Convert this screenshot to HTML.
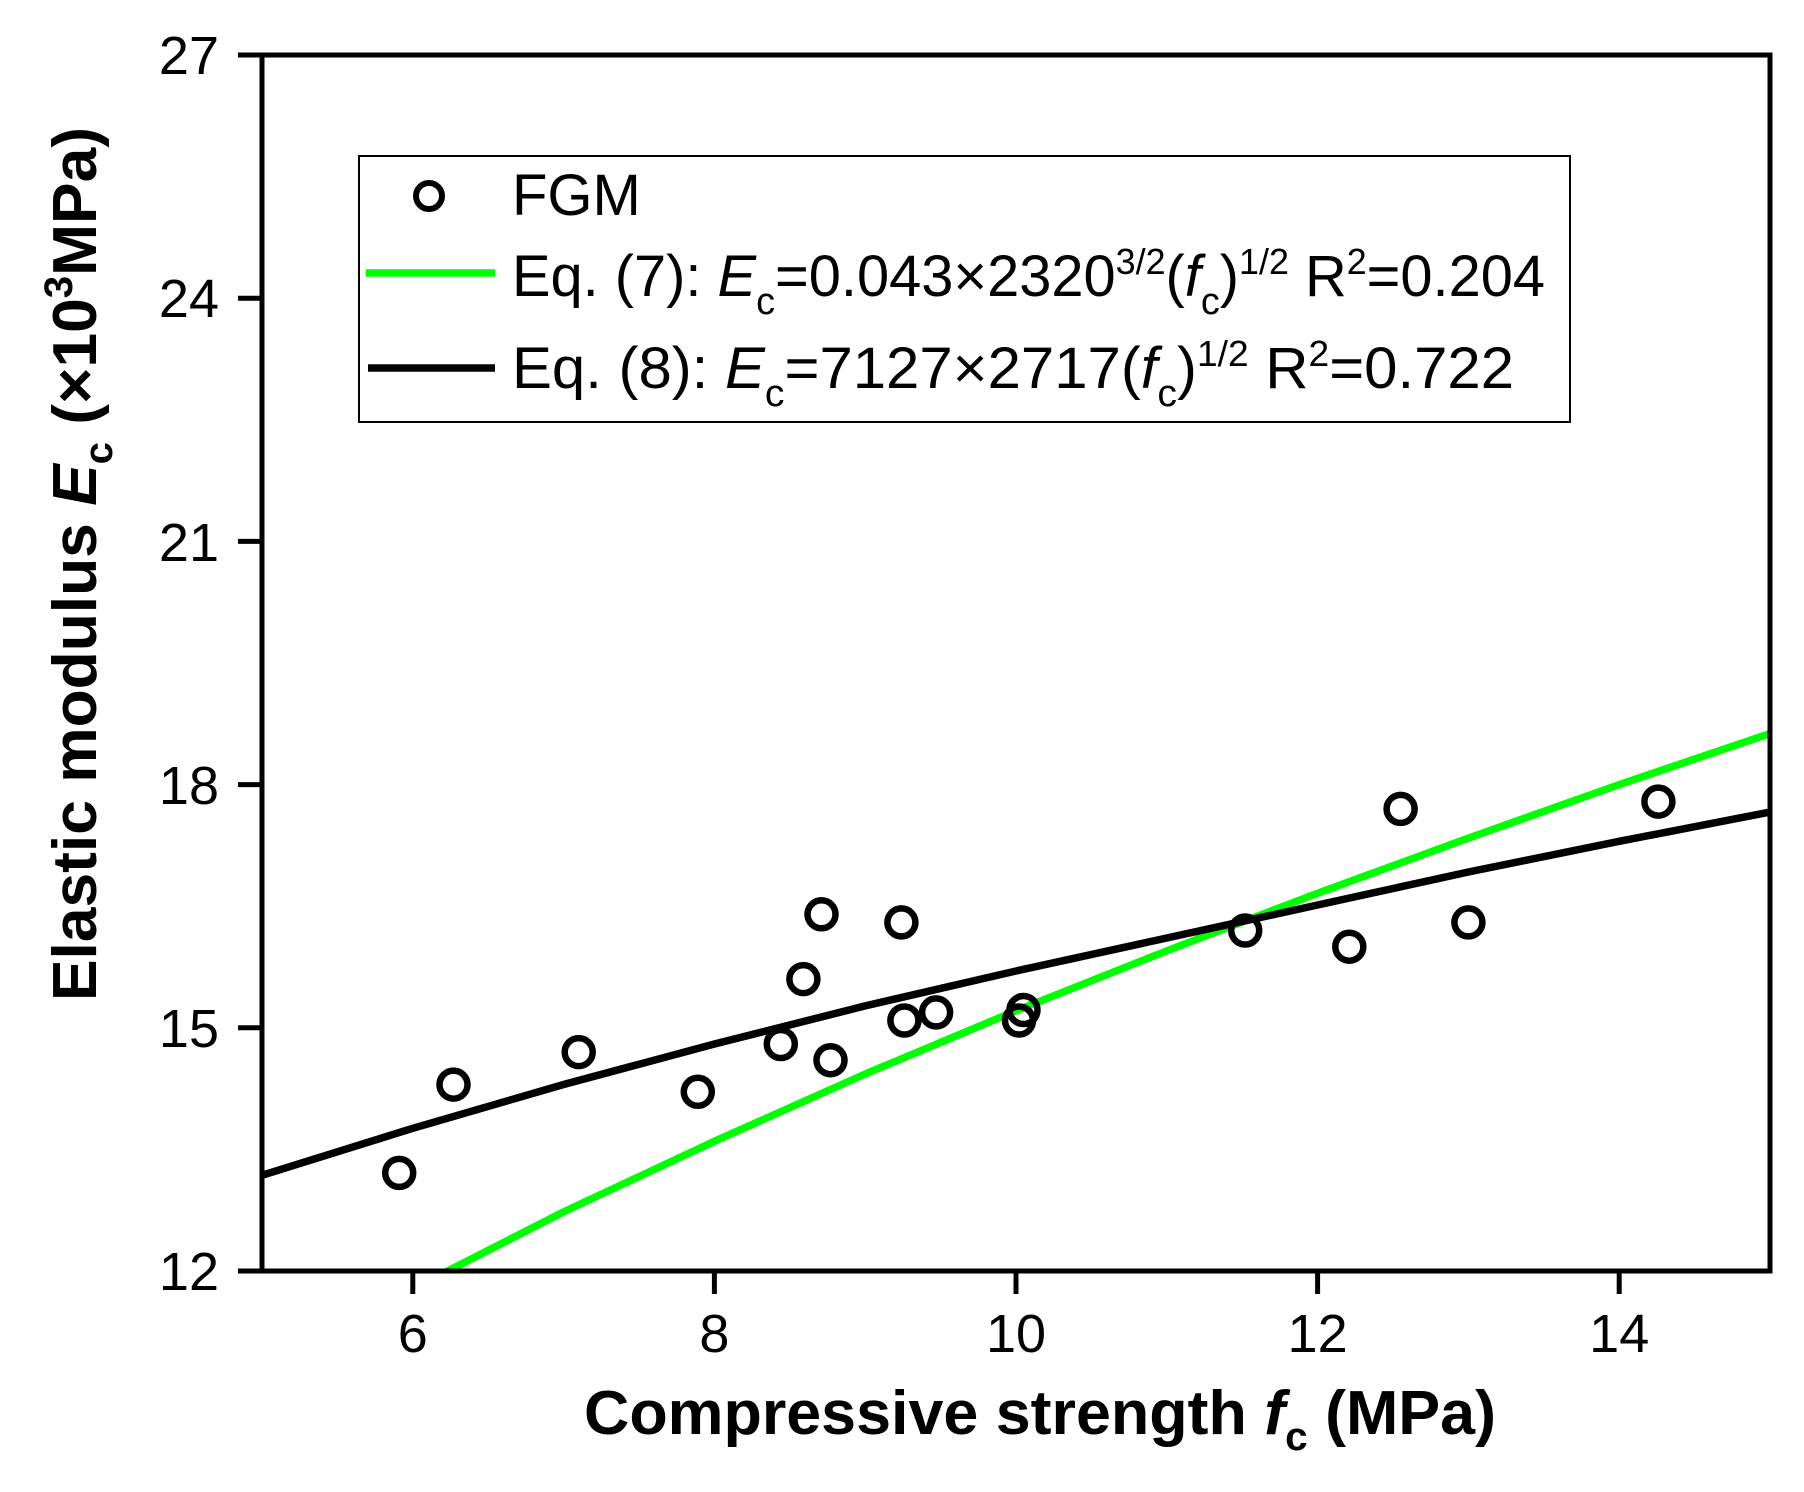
<!DOCTYPE html>
<html><head><meta charset="utf-8"><style>html,body{margin:0;padding:0;background:#fff}svg{display:block}</style></head>
<body>
<svg width="1804" height="1492" viewBox="0 0 1804 1492" xmlns="http://www.w3.org/2000/svg" font-family="Liberation Sans, Arial, sans-serif">
<defs><clipPath id="c"><rect x="262" y="55" width="1508" height="1216"/></clipPath></defs>
<g clip-path="url(#c)" fill="none" stroke-linejoin="round">
<polyline stroke="#00ff00" stroke-width="7.5" points="412.8,1288.8 563.6,1211.9 714.4,1141.3 865.2,1074 1016,1010.8 1166.8,950.8 1317.6,893.2 1468.4,838.1 1619.2,784.6 1770,733.5"/>
<polyline stroke="#000" stroke-width="7.5" points="262,1175.3 412.8,1128.3 563.6,1084.5 714.4,1044 865.2,1005.9 1016,971 1166.8,938 1317.6,905 1468.4,872 1619.2,841.3 1770,812.1"/>
<g stroke="#000" stroke-width="6.5">
<circle cx="399.2" cy="1172.9" r="14"/><circle cx="453.5" cy="1084.6" r="14"/><circle cx="578.7" cy="1052.1" r="14"/><circle cx="697.8" cy="1091.8" r="14"/><circle cx="780.8" cy="1044" r="14"/><circle cx="803.4" cy="979.1" r="14"/><circle cx="821.5" cy="914.3" r="14"/><circle cx="830.5" cy="1060.2" r="14"/><circle cx="901.4" cy="922.4" r="14"/><circle cx="904.4" cy="1020.5" r="14"/><circle cx="936.1" cy="1012.4" r="14"/><circle cx="1019" cy="1020.5" r="14"/><circle cx="1023.5" cy="1010" r="14"/><circle cx="1245.2" cy="930.5" r="14"/><circle cx="1349.3" cy="946.7" r="14"/><circle cx="1400.6" cy="808.9" r="14"/><circle cx="1468.4" cy="922.4" r="14"/><circle cx="1658.4" cy="801.6" r="14"/>
</g></g>
<rect x="262" y="55" width="1508" height="1216" fill="none" stroke="#000" stroke-width="5"/>
<g stroke="#000" stroke-width="5">
<line x1="238" y1="1271" x2="262" y2="1271"/><line x1="238" y1="1027.8" x2="262" y2="1027.8"/><line x1="238" y1="784.6" x2="262" y2="784.6"/><line x1="238" y1="541.4" x2="262" y2="541.4"/><line x1="238" y1="298.2" x2="262" y2="298.2"/><line x1="238" y1="55" x2="262" y2="55"/>
<line x1="412.8" y1="1271" x2="412.8" y2="1294"/><line x1="714.4" y1="1271" x2="714.4" y2="1294"/><line x1="1016" y1="1271" x2="1016" y2="1294"/><line x1="1317.6" y1="1271" x2="1317.6" y2="1294"/><line x1="1619.2" y1="1271" x2="1619.2" y2="1294"/>
</g>
<g font-size="54" text-anchor="end">
<text x="219" y="1290">12</text><text x="219" y="1047">15</text><text x="219" y="804">18</text><text x="219" y="561">21</text><text x="219" y="317">24</text><text x="219" y="74">27</text>
</g>
<g font-size="54" text-anchor="middle">
<text x="412.8" y="1352">6</text><text x="714.4" y="1352">8</text><text x="1016" y="1352">10</text><text x="1317.6" y="1352">12</text><text x="1619.2" y="1352">14</text>
</g>
<text x="584" y="1434" font-size="62" font-weight="bold" textLength="912" lengthAdjust="spacingAndGlyphs">Compressive strength <tspan font-style="italic">f</tspan><tspan font-size="40" dy="16">c</tspan><tspan dy="-16"> (MPa)</tspan></text>
<text transform="translate(96,1001) rotate(-90)" font-size="62" font-weight="bold" textLength="874" lengthAdjust="spacingAndGlyphs">Elastic modulus <tspan font-style="italic">E</tspan><tspan font-size="40" dy="16">c</tspan><tspan dy="-16"> (×10</tspan><tspan font-size="40" dy="-24">3</tspan><tspan dy="24">MPa)</tspan></text>
<rect x="359" y="156" width="1211" height="266" fill="#fff" stroke="#000" stroke-width="2"/>
<circle cx="429" cy="196" r="13" fill="none" stroke="#000" stroke-width="6"/>
<line x1="366" y1="273" x2="495" y2="273" stroke="#00ff00" stroke-width="7.5"/>
<line x1="368" y1="368" x2="495" y2="368" stroke="#000" stroke-width="7.5"/>
<g font-size="58">
<text x="512" y="215">FGM</text>
<text x="512" y="296" textLength="1033" lengthAdjust="spacingAndGlyphs">Eq. (7):   <tspan font-style="italic">E</tspan><tspan font-size="38" dy="18">c</tspan><tspan dy="-18">=0.043×2320</tspan><tspan font-size="36" dy="-22">3/2</tspan><tspan dy="22">(</tspan><tspan font-style="italic">f</tspan><tspan font-size="38" dy="18">c</tspan><tspan dy="-18">)</tspan><tspan font-size="36" dy="-22">1/2</tspan><tspan dy="22"> R</tspan><tspan font-size="36" dy="-22">2</tspan><tspan dy="22">=0.204</tspan></text>
<text x="512" y="388" textLength="1002" lengthAdjust="spacingAndGlyphs">Eq. (8):   <tspan font-style="italic">E</tspan><tspan font-size="38" dy="18">c</tspan><tspan dy="-18">=7127×2717(</tspan><tspan font-style="italic">f</tspan><tspan font-size="38" dy="18">c</tspan><tspan dy="-18">)</tspan><tspan font-size="36" dy="-22">1/2</tspan><tspan dy="22">    R</tspan><tspan font-size="36" dy="-22">2</tspan><tspan dy="22">=0.722</tspan></text>
</g>
</svg>
</body></html>
